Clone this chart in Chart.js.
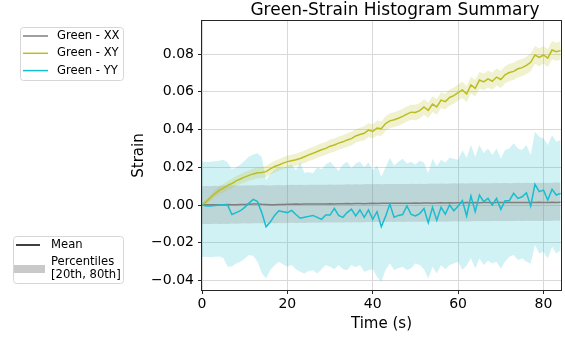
<!DOCTYPE html>
<html>
<head>
<meta charset="utf-8">
<script src="https://cdn.jsdelivr.net/npm/chart.js@4/dist/chart.umd.min.js"></script>
<style>
  html, body { margin: 0; padding: 0; background: #fff; }
  #chart { display: block; }
</style>
</head>
<body>
<canvas id="chart" width="565" height="337"></canvas>
<script>
// time axis (s)
const times = [
  0, 1, 2, 3, 4, 5, 6, 7, 8, 9,
  10, 11, 12, 13, 14, 15, 16, 17, 18, 19,
  20, 21, 22, 23, 24, 25, 26, 27, 28, 29,
  30, 31, 32, 33, 34, 35, 36, 37, 38, 39,
  40, 41, 42, 43, 44, 45, 46, 47, 48, 49,
  50, 51, 52, 53, 54, 55, 56, 57, 58, 59,
  60, 61, 62, 63, 64, 65, 66, 67, 68, 69,
  70, 71, 72, 73, 74, 75, 76, 77, 78, 79,
  80, 81, 82, 83, 84
];

const seriesNames = ['Green - XX', 'Green - XY', 'Green - YY'];
const chartTitle = 'Green-Strain Histogram Summary';

// mean strain
const xxMean = [
  0.0000, 0.0001, 0.0001, 0.0002, 0.0002, 0.0002, 0.0003, 0.0001, 0.0002, 0.0003,
  0.0003, 0.0004, 0.0005, 0.0006, 0.0004, 0.0003, 0.0002, 0.0002, 0.0003, 0.0003,
  0.0004, 0.0004, 0.0005, 0.0004, 0.0005, 0.0005, 0.0006, 0.0005, 0.0006, 0.0006,
  0.0007, 0.0006, 0.0007, 0.0007, 0.0008, 0.0007, 0.0008, 0.0008, 0.0007, 0.0008,
  0.0009, 0.0008, 0.0009, 0.0009, 0.0010, 0.0009, 0.0010, 0.0010, 0.0009, 0.0010,
  0.0011, 0.0010, 0.0011, 0.0011, 0.0010, 0.0011, 0.0012, 0.0011, 0.0012, 0.0011,
  0.0012, 0.0012, 0.0013, 0.0012, 0.0013, 0.0012, 0.0013, 0.0013, 0.0012, 0.0013,
  0.0014, 0.0013, 0.0013, 0.0014, 0.0013, 0.0014, 0.0014, 0.0013, 0.0014, 0.0015,
  0.0014, 0.0014, 0.0015, 0.0014, 0.0015
];
const xyMean = [
  0.0000, 0.0018, 0.0040, 0.0060, 0.0078, 0.0090, 0.0104, 0.0114, 0.0128, 0.0138,
  0.0148, 0.0157, 0.0165, 0.0171, 0.0173, 0.0177, 0.0192, 0.0204, 0.0212, 0.0222,
  0.0230, 0.0235, 0.0240, 0.0247, 0.0256, 0.0266, 0.0274, 0.0284, 0.0293, 0.0300,
  0.0312, 0.0318, 0.0328, 0.0335, 0.0345, 0.0352, 0.0366, 0.0374, 0.0380, 0.0397,
  0.0390, 0.0408, 0.0404, 0.0432, 0.0446, 0.0452, 0.0460, 0.0470, 0.0482, 0.0492,
  0.0490, 0.0500, 0.0520, 0.0502, 0.0535, 0.0520, 0.0556, 0.0548, 0.0570, 0.0580,
  0.0596, 0.0610, 0.0588, 0.0636, 0.0618, 0.0662, 0.0652, 0.0668, 0.0656, 0.0678,
  0.0665, 0.0690, 0.0702, 0.0708, 0.0722, 0.0728, 0.0740, 0.0756, 0.0795, 0.0782,
  0.0795, 0.0778, 0.0821, 0.0812, 0.0818
];
const yyMean = [
  0.0000, -0.0005, -0.0005, -0.0003, 0.0000, 0.0002, 0.0000, -0.0050, -0.0040, -0.0030,
  -0.0012, 0.0010, 0.0030, 0.0018, -0.0040, -0.0115, -0.0090, -0.0055, -0.0030, -0.0035,
  -0.0040, -0.0028, -0.0050, -0.0070, -0.0065, -0.0060, -0.0055, -0.0065, -0.0076, -0.0053,
  -0.0053, -0.0018, -0.0055, -0.0065, -0.0040, -0.0022, -0.0058, -0.0026, -0.0065, -0.0026,
  -0.0076, -0.0035, -0.0115, -0.0060, 0.0005, -0.0065, -0.0055, -0.0050, -0.0005, -0.0050,
  -0.0058, -0.0045, -0.0018, -0.0094, -0.0012, -0.0080, -0.0012, -0.0048, 0.0000, -0.0030,
  -0.0005, 0.0023, -0.0058, 0.0048, -0.0035, 0.0053, 0.0018, 0.0035, 0.0000, 0.0035,
  -0.0023, 0.0023, 0.0023, 0.0062, 0.0035, 0.0044, 0.0065, -0.0005, 0.0110, 0.0071,
  0.0079, 0.0026, 0.0083, 0.0053, 0.0062
];

// 20th / 80th percentiles
const xxP20 = [
  -0.0101, -0.0100, -0.0101, -0.0099, -0.0100, -0.0099, -0.0100, -0.0098, -0.0099, -0.0098,
  -0.0097, -0.0098, -0.0097, -0.0096, -0.0097, -0.0096, -0.0097, -0.0096, -0.0095, -0.0096,
  -0.0095, -0.0094, -0.0095, -0.0094, -0.0095, -0.0094, -0.0093, -0.0094, -0.0093, -0.0092,
  -0.0093, -0.0092, -0.0093, -0.0092, -0.0091, -0.0092, -0.0091, -0.0092, -0.0091, -0.0090,
  -0.0091, -0.0090, -0.0091, -0.0090, -0.0089, -0.0090, -0.0089, -0.0090, -0.0089, -0.0088,
  -0.0089, -0.0088, -0.0089, -0.0088, -0.0087, -0.0088, -0.0087, -0.0088, -0.0087, -0.0086,
  -0.0087, -0.0086, -0.0087, -0.0086, -0.0085, -0.0086, -0.0085, -0.0086, -0.0085, -0.0084,
  -0.0085, -0.0084, -0.0085, -0.0084, -0.0083, -0.0084, -0.0083, -0.0084, -0.0083, -0.0084,
  -0.0083, -0.0084, -0.0083, -0.0082, -0.0083
];
const xxP80 = [
  0.0100, 0.0101, 0.0100, 0.0102, 0.0101, 0.0103, 0.0102, 0.0103, 0.0104, 0.0103,
  0.0104, 0.0105, 0.0104, 0.0105, 0.0106, 0.0105, 0.0104, 0.0105, 0.0106, 0.0105,
  0.0106, 0.0107, 0.0106, 0.0107, 0.0106, 0.0108, 0.0107, 0.0108, 0.0107, 0.0108,
  0.0109, 0.0108, 0.0109, 0.0108, 0.0110, 0.0109, 0.0110, 0.0109, 0.0110, 0.0111,
  0.0110, 0.0111, 0.0110, 0.0111, 0.0112, 0.0111, 0.0112, 0.0111, 0.0112, 0.0113,
  0.0112, 0.0113, 0.0112, 0.0113, 0.0114, 0.0113, 0.0114, 0.0113, 0.0114, 0.0115,
  0.0114, 0.0115, 0.0114, 0.0115, 0.0116, 0.0115, 0.0116, 0.0115, 0.0116, 0.0117,
  0.0116, 0.0117, 0.0116, 0.0117, 0.0118, 0.0117, 0.0118, 0.0117, 0.0118, 0.0117,
  0.0118, 0.0117, 0.0118, 0.0119, 0.0118
];
const xyP20 = [
  -0.0010, 0.0005, 0.0024, 0.0041, 0.0057, 0.0067, 0.0080, 0.0089, 0.0102, 0.0111,
  0.0120, 0.0129, 0.0136, 0.0142, 0.0143, 0.0147, 0.0162, 0.0173, 0.0181, 0.0191,
  0.0198, 0.0203, 0.0208, 0.0214, 0.0223, 0.0233, 0.0240, 0.0250, 0.0259, 0.0266,
  0.0277, 0.0283, 0.0293, 0.0300, 0.0309, 0.0316, 0.0330, 0.0338, 0.0343, 0.0360,
  0.0352, 0.0370, 0.0366, 0.0393, 0.0407, 0.0413, 0.0420, 0.0430, 0.0442, 0.0452,
  0.0449, 0.0459, 0.0479, 0.0461, 0.0493, 0.0478, 0.0514, 0.0506, 0.0528, 0.0537,
  0.0553, 0.0567, 0.0545, 0.0592, 0.0574, 0.0618, 0.0608, 0.0623, 0.0611, 0.0633,
  0.0620, 0.0645, 0.0656, 0.0662, 0.0676, 0.0682, 0.0694, 0.0709, 0.0748, 0.0735,
  0.0748, 0.0731, 0.0773, 0.0764, 0.0770
];
const xyP80 = [
  0.0010, 0.0031, 0.0056, 0.0079, 0.0099, 0.0113, 0.0128, 0.0139, 0.0154, 0.0165,
  0.0176, 0.0185, 0.0194, 0.0200, 0.0203, 0.0207, 0.0222, 0.0235, 0.0243, 0.0253,
  0.0262, 0.0267, 0.0272, 0.0280, 0.0289, 0.0299, 0.0308, 0.0318, 0.0327, 0.0334,
  0.0347, 0.0353, 0.0363, 0.0370, 0.0381, 0.0388, 0.0402, 0.0410, 0.0417, 0.0434,
  0.0428, 0.0446, 0.0442, 0.0471, 0.0485, 0.0491, 0.0500, 0.0510, 0.0522, 0.0532,
  0.0531, 0.0541, 0.0561, 0.0543, 0.0577, 0.0562, 0.0598, 0.0590, 0.0612, 0.0623,
  0.0639, 0.0653, 0.0631, 0.0680, 0.0662, 0.0706, 0.0696, 0.0713, 0.0701, 0.0723,
  0.0710, 0.0735, 0.0748, 0.0754, 0.0768, 0.0774, 0.0786, 0.0803, 0.0842, 0.0829,
  0.0842, 0.0825, 0.0869, 0.0860, 0.0866
];
const yyP20 = [
  -0.0275, -0.0274, -0.0276, -0.0274, -0.0272, -0.0280, -0.0327, -0.0325, -0.0310, -0.0300,
  -0.0285, -0.0265, -0.0270, -0.0300, -0.0360, -0.0389, -0.0344, -0.0320, -0.0300, -0.0315,
  -0.0327, -0.0318, -0.0340, -0.0353, -0.0362, -0.0350, -0.0345, -0.0362, -0.0340, -0.0318,
  -0.0327, -0.0340, -0.0318, -0.0340, -0.0345, -0.0318, -0.0330, -0.0318, -0.0353, -0.0345,
  -0.0340, -0.0380, -0.0406, -0.0345, -0.0310, -0.0344, -0.0335, -0.0327, -0.0344, -0.0335,
  -0.0310, -0.0318, -0.0340, -0.0389, -0.0327, -0.0362, -0.0318, -0.0340, -0.0318, -0.0310,
  -0.0300, -0.0344, -0.0320, -0.0282, -0.0336, -0.0283, -0.0318, -0.0295, -0.0310, -0.0300,
  -0.0336, -0.0300, -0.0274, -0.0265, -0.0291, -0.0283, -0.0300, -0.0310, -0.0212, -0.0256,
  -0.0247, -0.0283, -0.0221, -0.0256, -0.0240
];
const yyP80 = [
  0.0230, 0.0228, 0.0230, 0.0232, 0.0235, 0.0240, 0.0225, 0.0190, 0.0200, 0.0215,
  0.0235, 0.0257, 0.0268, 0.0275, 0.0255, 0.0132, 0.0165, 0.0190, 0.0200, 0.0195,
  0.0205, 0.0215, 0.0185, 0.0225, 0.0170, 0.0175, 0.0168, 0.0200, 0.0190, 0.0215,
  0.0229, 0.0205, 0.0180, 0.0215, 0.0229, 0.0195, 0.0220, 0.0229, 0.0200, 0.0225,
  0.0185, 0.0210, 0.0150, 0.0200, 0.0250, 0.0210, 0.0230, 0.0245, 0.0220, 0.0230,
  0.0215, 0.0235, 0.0225, 0.0168, 0.0245, 0.0205, 0.0240, 0.0225, 0.0250, 0.0245,
  0.0240, 0.0290, 0.0250, 0.0318, 0.0256, 0.0318, 0.0274, 0.0300, 0.0265, 0.0300,
  0.0247, 0.0291, 0.0300, 0.0327, 0.0300, 0.0291, 0.0318, 0.0265, 0.0388, 0.0362,
  0.0353, 0.0318, 0.0371, 0.0336, 0.0344
];

const xTicks = [0, 20, 40, 60, 80];
const yTicks = [-0.04, -0.02, 0.00, 0.02, 0.04, 0.06, 0.08];

const FONT = '"DejaVu Sans", sans-serif';
const colXX = '#7f7f7f';
const colXY = '#bcbd22';
const colYY = '#17becf';

const pts = (vals) => vals.map((v, i) => ({ x: times[i], y: v }));

function meanLine(label, vals, color) {
  return {
    label, data: pts(vals), borderColor: color, borderWidth: 1.5,
    pointRadius: 0, tension: 0, fill: false
  };
}
function bandEdge(vals, fill, bg) {
  return {
    label: '', data: pts(vals), borderColor: 'rgba(0,0,0,0)', borderWidth: 0,
    pointRadius: 0, tension: 0, fill, backgroundColor: bg
  };
}

// title, matplotlib-style legends and frame
const sideLegends = {
  id: 'sideLegends',
  afterDraw(chart) {
    const ctx = chart.ctx;
    const a = chart.chartArea;
    ctx.save();

    // axes frame
    ctx.strokeStyle = '#262626';
    ctx.lineWidth = 1;
    ctx.strokeRect(Math.round(a.left) - 0.5, Math.round(a.top) - 0.5,
      Math.round(a.right - a.left) + 1, Math.round(a.bottom - a.top) + 1);

    // title
    ctx.fillStyle = '#000';
    ctx.font = '17px ' + FONT;
    ctx.textAlign = 'center';
    ctx.textBaseline = 'middle';
    ctx.fillText(chartTitle, a.left + 193, 11);

    function box(x, y, w, h) {
      ctx.beginPath();
      ctx.roundRect(x, y, w, h, 3);
      ctx.fillStyle = 'rgba(255,255,255,0.8)';
      ctx.fill();
      ctx.strokeStyle = '#d6d6d6';
      ctx.lineWidth = 1;
      ctx.stroke();
    }
    function hline(x0, x1, y, color, w) {
      ctx.beginPath();
      ctx.moveTo(x0, y);
      ctx.lineTo(x1, y);
      ctx.strokeStyle = color;
      ctx.lineWidth = w;
      ctx.stroke();
    }

    ctx.font = '11.6px ' + FONT;
    ctx.textBaseline = 'middle';
    ctx.textAlign = 'left';

    box(20.5, 27.5, 103, 53);
    const lineCols = [colXX, colXY, colYY];
    seriesNames.forEach((name, i) => {
      const y = 36 + i * 17.3;
      hline(23, 48, y, lineCols[i], 1.5);
      ctx.fillStyle = '#000';
      ctx.fillText(name, 57, y);
    });

    box(13.5, 236.5, 110, 47);
    hline(16, 40, 245, '#000', 1.5);
    ctx.fillStyle = '#000';
    ctx.fillText('Mean', 51, 245);
    ctx.fillStyle = '#c9c9c9';
    ctx.fillRect(14, 265, 31, 8);
    ctx.fillStyle = '#000';
    ctx.fillText('Percentiles', 51, 262);
    ctx.fillText('[20th, 80th]', 51, 274.5);

    ctx.restore();
  }
};

new Chart(document.getElementById('chart'), {
  type: 'line',
  data: {
    datasets: [
      meanLine(seriesNames[2], yyMean, colYY),
      meanLine(seriesNames[1], xyMean, colXY),
      meanLine(seriesNames[0], xxMean, colXX),
      bandEdge(xyP20, false, 'rgba(0,0,0,0)'),
      bandEdge(xyP80, '-1', 'rgba(188,189,34,0.22)'),
      bandEdge(xxP20, false, 'rgba(0,0,0,0)'),
      bandEdge(xxP80, '-1', 'rgba(127,127,127,0.25)'),
      bandEdge(yyP20, false, 'rgba(0,0,0,0)'),
      bandEdge(yyP80, '-1', 'rgba(23,190,207,0.2)')
    ]
  },
  options: {
    responsive: false,
    devicePixelRatio: 1,
    animation: false,
    layout: { padding: { left: 130, right: 4, top: 21, bottom: 0 } },
    plugins: {
      legend: { display: false },
      tooltip: { enabled: false },
      title: { display: false }
    },
    scales: {
      x: {
        type: 'linear',
        min: 0,
        max: 84.1,
        afterFit: (s) => { s.height = 47; },
        afterBuildTicks: (s) => { s.ticks = xTicks.map((v) => ({ value: v })); },
        border: { display: false },
        grid: { color: '#d9d9d9', lineWidth: 1, tickLength: 4, tickColor: '#262626' },
        ticks: { color: '#000', padding: 2, maxRotation: 0, font: { family: FONT, size: 14 } },
        title: {
          display: true, text: 'Time (s)', color: '#000',
          font: { family: FONT, size: 15 }, padding: { top: 0, bottom: 4 }
        }
      },
      y: {
        type: 'linear',
        min: -0.045,
        max: 0.0975,
        afterFit: (s) => { s.width = 72; },
        afterBuildTicks: (s) => { s.ticks = yTicks.map((v) => ({ value: v })); },
        border: { display: false },
        grid: { color: '#d9d9d9', lineWidth: 1, tickLength: 4, tickColor: '#262626' },
        ticks: {
          color: '#000', padding: 4, font: { family: FONT, size: 14 },
          callback: (v) => {
            const s = Math.abs(v).toFixed(2);
            return v < -1e-9 ? '\u2212' + s : s;
          }
        },
        title: {
          display: true, text: 'Strain', color: '#000',
          font: { family: FONT, size: 15 }, padding: { top: 0, bottom: 0 }
        }
      }
    }
  },
  plugins: [sideLegends]
});
</script>
</body>
</html>
